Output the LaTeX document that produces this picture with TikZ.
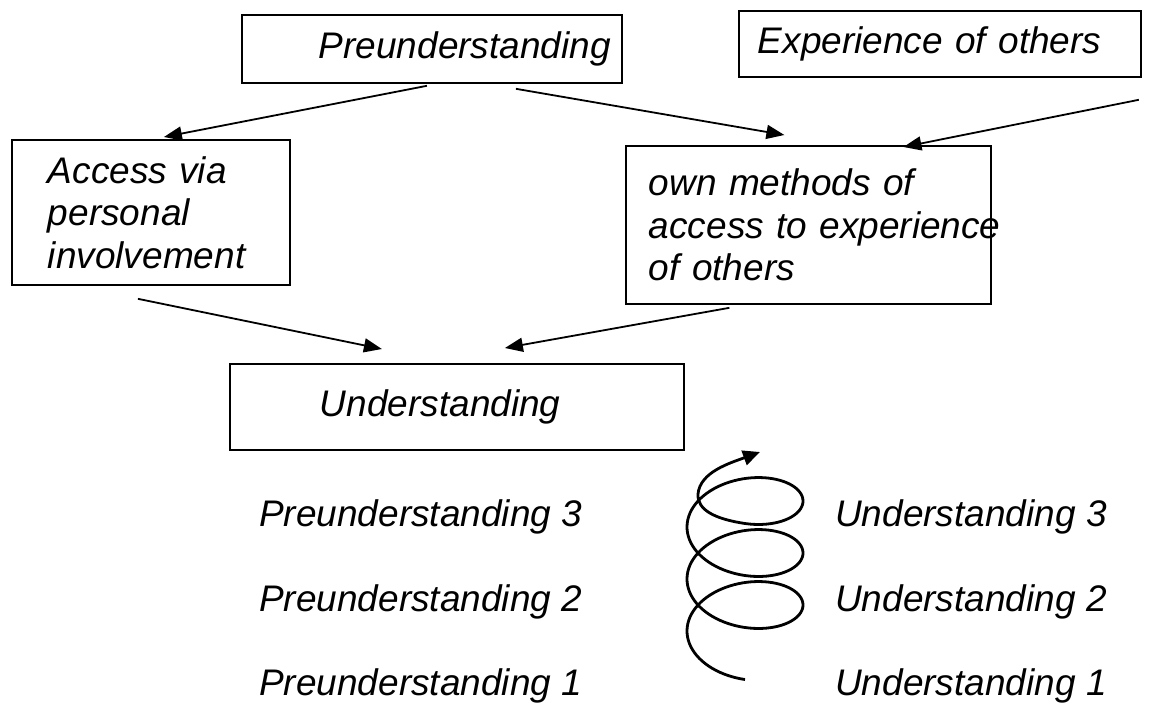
\documentclass[tikz,border=0pt]{standalone}
\usepackage{fontspec}
\setmainfont{Liberation Sans}
\usetikzlibrary{arrows.meta}

\begin{document}
\begin{tikzpicture}[x=1pt,y=-1pt,
        box/.style={draw,line width=1.8pt,anchor=north west,inner ysep=0pt,
            font=\fontsize{37}{42.5}\selectfont\itshape},
        lbl/.style={anchor=base west,inner sep=0pt,
            font=\fontsize{37}{42.5}\selectfont\itshape},
        arr/.style={line width=1.8pt,-{Triangle[length=18pt,width=14pt]}}
    ]
        \useasboundingbox (0,0) rectangle (1155,704);
        % Boxes
        \node[box,minimum height=68pt,text width=358pt,inner xsep=11pt,align=right] (pre) at (241,14) {Preunderstanding};
        \node[box,minimum height=66pt,text width=364pt,inner xsep=19pt,align=left] (exp) at (738,10) {Experience of others};
        \node[box,minimum height=145pt,text width=206pt,inner xsep=36pt,align=left] (acc) at (11,139) {Access via\\personal\\involvement};
        \node[box,minimum height=158pt,text width=319pt,inner xsep=23pt,align=left] (own) at (625,145) {own methods of\\\mbox{access to experience}\\of others};
        \node[box,minimum height=86pt,text width=274pt,inner xsep=90pt,align=left] (und) at (229,363) {Understanding};
        % Arrows
        \draw[arr] ([xshift=-5pt,yshift=-2pt]pre.south) -- ([xshift=13pt,yshift=2pt]acc.north);
        \draw[arr] ([xshift=84pt,yshift=-5pt]pre.south) -- ([xshift=-24pt,yshift=10pt]own.north);
        \draw[arr] ([xshift=-3pt,yshift=-22pt]exp.south east) -- ([xshift=95pt,yshift=-2pt]own.north);
        \draw[arr] ([xshift=-13pt,yshift=-13pt]acc.south) -- ([xshift=-75pt,yshift=14pt]und.north);
        \draw[arr] ([xshift=-79pt,yshift=-3pt]own.south) -- ([xshift=48pt,yshift=15pt]und.north);
        % Spiral labels
        \node[lbl] (p3) at (259,526) {Preunderstanding 3};
        \node[lbl] (p2) at (259,611) {Preunderstanding 2};
        \node[lbl] (p1) at (259,695) {Preunderstanding 1};
        \node[lbl] (u3) at (835,526) {Understanding 3};
        \node[lbl] (u2) at (835,611) {Understanding 2};
        \node[lbl] (u1) at (835,695) {Understanding 1};
        % Spiral
        \draw[line width=2.8pt,-{Triangle[length=17pt,width=15pt]}]
            plot[variable=\t,domain=90:1170,samples=250] ({745+58*cos(\t)},{631-0.14444*(\t-180)+35.5*sin(\t)})
            .. controls (715,519) and (697,510) .. (698,494)
            .. controls (700,472) and (730,463) .. (760,452);
    \end{tikzpicture}
\end{document}
